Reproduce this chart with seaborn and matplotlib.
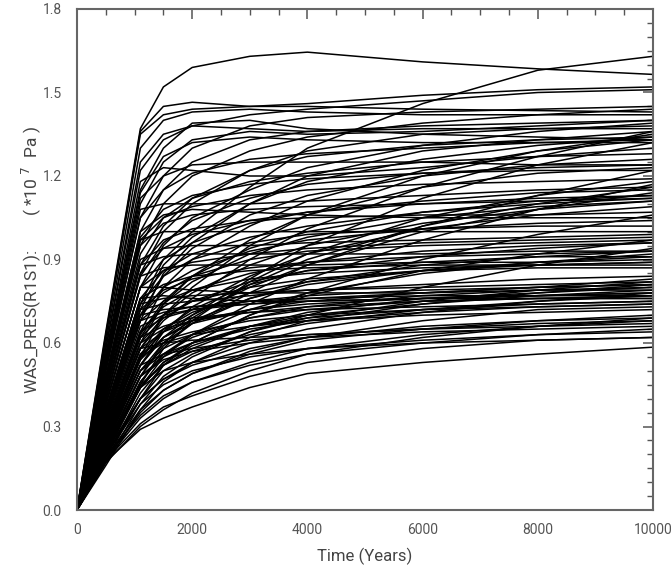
import matplotlib
matplotlib.use("Agg")
import matplotlib.pyplot as plt
import seaborn as sns
import pandas as pd
from matplotlib.ticker import MultipleLocator

time_years = [0, 500, 1100, 1500, 2000, 3000, 4000, 6000, 8000, 10000]

# Realizations, grouped by the level they end at (pressure, *1e7 Pa)
group_high = [
    [0, .64, 1.37, 1.52, 1.59, 1.63, 1.645, 1.61, 1.585, 1.565],
    [0, .63, 1.36, 1.45, 1.465, 1.45, 1.45, 1.44, 1.435, 1.43],
    [0, .36, .74, .90, 1.00, 1.16, 1.30, 1.46, 1.58, 1.63],
    [0, .62, 1.35, 1.42, 1.44, 1.45, 1.46, 1.49, 1.51, 1.52],
    [0, .58, 1.22, 1.33, 1.38, 1.42, 1.44, 1.47, 1.50, 1.51],
    [0, .55, 1.15, 1.30, 1.39, 1.40, 1.37, 1.35, 1.34, 1.33],
    [0, .60, 1.30, 1.40, 1.43, 1.44, 1.43, 1.42, 1.42, 1.42],
    [0, .50, 1.05, 1.20, 1.30, 1.38, 1.41, 1.43, 1.44, 1.45],
    [0, .45, .95, 1.10, 1.20, 1.29, 1.34, 1.39, 1.42, 1.44],
    [0, .52, 1.10, 1.25, 1.33, 1.36, 1.35, 1.36, 1.38, 1.40],
    [0, .40, .85, 1.00, 1.10, 1.22, 1.29, 1.35, 1.37, 1.38],
    [0, .58, 1.25, 1.35, 1.38, 1.37, 1.36, 1.37, 1.37, 1.37],
    [0, .38, .80, .95, 1.05, 1.15, 1.23, 1.31, 1.36, 1.39],
    [0, .48, 1.00, 1.15, 1.25, 1.33, 1.36, 1.38, 1.39, 1.40],
]
group_upper_mid = [
    [0, .56, 1.18, 1.23, 1.22, 1.20, 1.20, 1.23, 1.27, 1.30],
    [0, .35, .72, .88, .98, 1.10, 1.18, 1.26, 1.31, 1.34],
    [0, .42, .88, 1.02, 1.12, 1.22, 1.27, 1.31, 1.33, 1.34],
    [0, .30, .64, .80, .90, 1.02, 1.11, 1.22, 1.29, 1.33],
    [0, .50, 1.05, 1.15, 1.21, 1.26, 1.28, 1.30, 1.32, 1.33],
    [0, .44, .92, 1.05, 1.12, 1.18, 1.21, 1.25, 1.27, 1.28],
    [0, .33, .70, .84, .94, 1.06, 1.13, 1.20, 1.24, 1.26],
    [0, .53, 1.12, 1.20, 1.24, 1.25, 1.25, 1.25, 1.24, 1.24],
    [0, .28, .60, .74, .84, .97, 1.06, 1.16, 1.21, 1.23],
    [0, .40, .84, .96, 1.04, 1.12, 1.17, 1.21, 1.23, 1.24],
    [0, .47, .98, 1.08, 1.13, 1.17, 1.19, 1.21, 1.22, 1.22],
    [0, .32, .68, .85, .96, 1.10, 1.20, 1.29, 1.33, 1.36],
    [0, .26, .55, .70, .80, .95, 1.06, 1.20, 1.29, 1.35],
    [0, .54, 1.14, 1.27, 1.32, 1.34, 1.33, 1.32, 1.32, 1.32],
]
group_slow_risers = [
    [0, .26, .52, .62, .70, .83, .95, 1.12, 1.24, 1.32],
    [0, .28, .58, .68, .76, .90, 1.01, 1.16, 1.27, 1.36],
    [0, .24, .50, .60, .67, .78, .88, 1.02, 1.13, 1.22],
    [0, .22, .46, .56, .63, .74, .83, .97, 1.08, 1.17],
    [0, .27, .55, .64, .70, .80, .88, 1.00, 1.08, 1.14],
    [0, .21, .44, .53, .60, .70, .78, .90, .99, 1.06],
    [0, .19, .40, .50, .56, .64, .70, .80, .88, .94],
]
group_mid = [
    [0, .51, 1.08, 1.10, 1.10, 1.10, 1.11, 1.13, 1.15, 1.16],
    [0, .38, .80, .90, .96, 1.03, 1.07, 1.11, 1.14, 1.15],
    [0, .45, .95, 1.03, 1.06, 1.08, 1.09, 1.10, 1.11, 1.12],
    [0, .30, .63, .75, .84, .94, 1.00, 1.07, 1.11, 1.13],
    [0, .42, .88, .97, 1.01, 1.04, 1.05, 1.06, 1.06, 1.07],
    [0, .27, .58, .70, .78, .88, .95, 1.03, 1.08, 1.11],
    [0, .36, .76, .86, .92, .98, 1.02, 1.07, 1.10, 1.12],
    [0, .48, 1.00, 1.06, 1.08, 1.07, 1.06, 1.05, 1.05, 1.05],
    [0, .24, .52, .64, .73, .84, .92, 1.01, 1.06, 1.09],
    [0, .33, .70, .80, .86, .93, .97, 1.01, 1.03, 1.04],
    [0, .40, .85, .94, .99, 1.04, 1.07, 1.10, 1.12, 1.13],
    [0, .22, .48, .60, .69, .81, .90, 1.02, 1.10, 1.16],
    [0, .35, .74, .84, .90, .96, .99, 1.01, 1.02, 1.02],
    [0, .46, .97, 1.05, 1.09, 1.13, 1.15, 1.17, 1.18, 1.19],
    [0, .29, .62, .74, .82, .92, .98, 1.05, 1.09, 1.11],
    [0, .20, .45, .58, .68, .82, .92, 1.05, 1.13, 1.18],
]
group_lower_mid = [
    [0, .46, .97, 1.00, 1.00, 1.00, 1.00, 1.00, 1.00, 1.00],
    [0, .38, .80, .86, .89, .92, .94, .96, .97, .98],
    [0, .30, .64, .73, .79, .85, .89, .93, .95, .96],
    [0, .25, .54, .65, .72, .81, .86, .91, .94, .96],
    [0, .42, .88, .91, .92, .92, .92, .92, .93, .93],
    [0, .34, .72, .79, .83, .87, .89, .91, .92, .93],
    [0, .28, .60, .69, .75, .82, .86, .89, .91, .91],
    [0, .22, .48, .59, .67, .76, .82, .88, .91, .93],
    [0, .40, .84, .87, .88, .88, .88, .89, .89, .90],
    [0, .32, .68, .75, .79, .83, .85, .87, .88, .89],
    [0, .26, .56, .65, .71, .78, .82, .86, .88, .89],
    [0, .20, .44, .55, .63, .72, .78, .85, .89, .92],
    [0, .36, .76, .81, .84, .86, .87, .88, .88, .88],
    [0, .29, .62, .70, .75, .80, .83, .86, .87, .87],
    [0, .43, .90, .94, .95, .95, .96, .97, .98, .99],
    [0, .24, .52, .62, .68, .76, .81, .86, .89, .91],
    [0, .18, .40, .52, .60, .70, .77, .86, .92, .97],
    [0, .33, .70, .78, .84, .90, .93, .95, .96, .97],
]
group_low = [
    [0, .35, .74, .76, .77, .78, .79, .80, .81, .82],
    [0, .30, .64, .69, .72, .75, .77, .79, .80, .81],
    [0, .25, .54, .62, .67, .72, .75, .78, .80, .81],
    [0, .21, .46, .56, .62, .69, .73, .77, .79, .80],
    [0, .38, .80, .80, .79, .78, .78, .78, .79, .79],
    [0, .32, .68, .71, .73, .75, .76, .77, .77, .78],
    [0, .27, .58, .64, .68, .72, .74, .76, .77, .77],
    [0, .19, .42, .52, .58, .66, .71, .76, .78, .80],
    [0, .33, .70, .72, .73, .74, .75, .76, .76, .76],
    [0, .23, .50, .58, .63, .69, .72, .75, .76, .77],
    [0, .29, .62, .66, .69, .71, .72, .73, .74, .75],
    [0, .17, .38, .48, .55, .64, .69, .75, .79, .82],
    [0, .26, .56, .61, .64, .68, .70, .72, .73, .74],
    [0, .36, .76, .77, .76, .75, .75, .76, .77, .78],
    [0, .22, .48, .55, .60, .66, .69, .72, .74, .75],
    [0, .31, .66, .70, .72, .74, .76, .78, .80, .83],
    [0, .20, .44, .53, .59, .66, .70, .74, .77, .79],
    [0, .28, .60, .65, .68, .71, .73, .75, .76, .76],
    [0, .16, .36, .46, .53, .62, .68, .74, .78, .81],
    [0, .34, .72, .74, .75, .77, .79, .81, .83, .84],
    [0, .20, .40, .47, .53, .60, .65, .71, .75, .78],
    [0, .22, .45, .52, .57, .63, .67, .72, .75, .77],
    [0, .24, .50, .56, .60, .65, .68, .71, .73, .74],
    [0, .18, .35, .43, .49, .57, .62, .68, .72, .73],
    [0, .26, .55, .60, .63, .66, .68, .70, .71, .72],
]
group_lowest = [
    [0, .175, .29, .33, .37, .44, .49, .53, .56, .585],
    [0, .18, .31, .37, .41, .48, .53, .58, .61, .62],
    [0, .19, .34, .41, .46, .52, .56, .60, .63, .64],
    [0, .20, .38, .45, .50, .55, .58, .61, .63, .65],
    [0, .22, .44, .50, .53, .56, .58, .60, .61, .62],
    [0, .18, .33, .40, .46, .53, .58, .63, .66, .68],
    [0, .25, .52, .56, .58, .61, .63, .65, .66, .67],
    [0, .21, .40, .47, .52, .58, .62, .66, .68, .69],
    [0, .19, .36, .43, .49, .56, .61, .65, .68, .70],
    [0, .23, .48, .54, .57, .60, .62, .64, .65, .66],
    [0, .28, .58, .60, .61, .62, .63, .65, .67, .68],
    [0, .17, .30, .36, .42, .50, .56, .62, .66, .69],
]

x_ticks = [0, 2000, 4000, 6000, 8000, 10000]
y_ticks = [0.0, 0.3, 0.6, 0.9, 1.2, 1.5, 1.8]
x_label = "Time (Years)"
y_label = "WAS_PRES(R1S1):        ( *10 $^{7}$  Pa )"

# ---- build long-form table ----
rows = []
cid = 0
for grp in (group_high, group_upper_mid, group_slow_risers, group_mid,
            group_lower_mid, group_low, group_lowest):
    for curve in grp:
        for t, v in zip(time_years, curve):
            rows.append({"time": t, "value": v, "run": cid})
        cid += 1
df = pd.DataFrame(rows)

sns.set_theme(style="white")
plt.rcParams['font.family'] = ['DejaVu Sans Condensed', 'Liberation Sans Narrow',
                               'Roboto', 'DejaVu Sans']
plt.rcParams['mathtext.fontset'] = 'custom'

fig = plt.figure(figsize=(6.72, 5.68), dpi=100)
ax = fig.add_axes([77/672, 1 - 510/568, (653-77)/672, (510-9)/568])

sns.lineplot(data=df, x="time", y="value", units="run", estimator=None,
             color="black", linewidth=1.1, ax=ax, legend=False)

ax.set_xlim(0, 10000)
ax.set_ylim(0, 1.8)
ax.set_xticks(x_ticks)
ax.set_yticks(y_ticks)
ax.set_xticklabels([str(v) for v in x_ticks])
ax.set_yticklabels([f"{v:.1f}" for v in y_ticks])
ax.xaxis.set_minor_locator(MultipleLocator(500))
ax.yaxis.set_minor_locator(MultipleLocator(0.05))

grey = "#555555"
ax.tick_params(which="both", direction="in", top=True, right=True,
               color=grey, labelcolor=grey, labelsize=10)
ax.tick_params(which="major", length=7, width=1.1)
ax.tick_params(which="minor", length=4, width=1.0)
ax.tick_params(axis="x", pad=9)
ax.tick_params(axis="y", pad=11)
for s in ax.spines.values():
    s.set_color("#666666")
    s.set_linewidth(1.5)

ax.set_xlabel(x_label, fontsize=12, color="#444444", labelpad=8)
ax.set_ylabel(y_label, fontsize=12.5, color="#444444", labelpad=0)

fig.savefig("out.png", dpi=100, facecolor="white")
